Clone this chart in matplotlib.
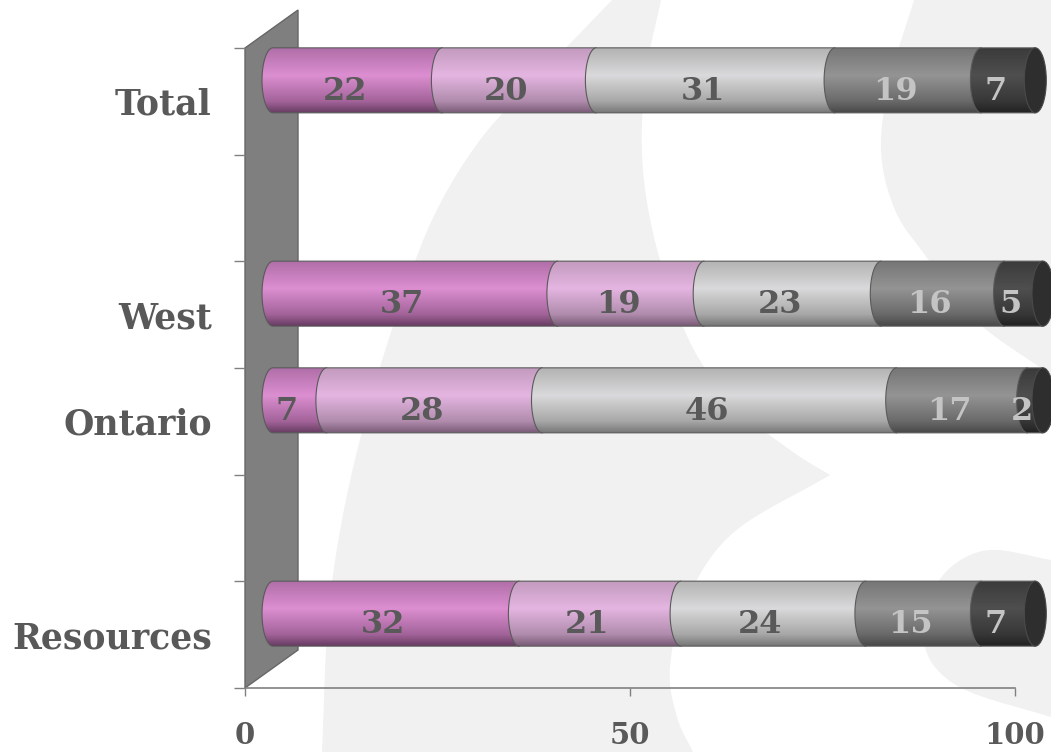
import numpy as np
import matplotlib
matplotlib.use('Agg')
import matplotlib.pyplot as plt
import matplotlib.transforms as mtransforms
from matplotlib.patches import Polygon, Ellipse
from matplotlib.colors import to_rgb

# survey shares per region, five answer bands each (empty rows are spacers)
categories = ["Total", "", "West", "Ontario", "", "Resources"]
total = [22, 20, 31, 19, 7]
west = [37, 19, 23, 16, 5]
ontario = [7, 28, 46, 17, 2]
resources = [32, 21, 24, 15, 7]
rows = [total, None, west, ontario, None, resources]
x_ticks = [0, 50, 100]

# vertical shading of each band: top edge, highlight, lower body, bottom edge
band_shades = [
    ['#b06fa8', '#dc8ed1', '#a3649a', '#673d62'],
    ['#c39bbf', '#e4b5e1', '#b08cad', '#7a5c77'],
    ['#b3b3b3', '#dad9db', '#a8a8a8', '#777777'],
    ['#767676', '#949494', '#6a6a6a', '#484848'],
    ['#3b3b3b', '#4f4f4f', '#373737', '#222222'],
]
label_colors = ['#595959', '#595959', '#595959', '#c4c4c4', '#c4c4c4']
TEXT = '#595959'
FONT = 'DejaVu Serif'


def gradient(stops, n=96):
    pos = [0.0, 0.42, 0.82, 1.0]
    rgb = np.array([to_rgb(c) for c in stops])
    t = np.linspace(0, 1, n)
    cols = np.column_stack([np.interp(t, pos, rgb[:, k]) for k in range(3)])
    return cols[:, None, :]


def catmull(pts, n=24):
    p = np.array(pts, float)
    p = np.vstack([2 * p[0] - p[1], p, 2 * p[-1] - p[-2]])
    out = []
    t = np.linspace(0, 1, n, endpoint=False)[:, None]
    for i in range(1, len(p) - 2):
        p0, p1, p2, p3 = p[i - 1], p[i], p[i + 1], p[i + 2]
        out.append(0.5 * (2 * p1 + (-p0 + p2) * t
                          + (2 * p0 - 5 * p1 + 4 * p2 - p3) * t ** 2
                          + (-p0 + 3 * p1 - 3 * p2 + p3) * t ** 3))
    out.append(p[-2][None])
    return np.vstack(out)


fig = plt.figure(figsize=(10.51, 7.52), dpi=100)

# faint watermark swooshes behind the chart
bg = fig.add_axes([0, 0, 1, 1])
bg.set_xlim(0, 1051)
bg.set_ylim(752, 0)
bg.axis('off')
swooshes = [
    [[(612, 0), (540, 75), (480, 140), (432, 220), (395, 320), (365, 420),
      (342, 520), (328, 620), (322, 752)],
     [(693, 752), (677, 717), (670, 667), (687, 600), (733, 533), (830, 475)],
     [(830, 475), (793, 452), (740, 410), (694, 350), (660, 260), (643, 170),
      (645, 80), (661, 0)]],
    [[(914, 0), (890, 80), (881, 150), (895, 210), (925, 255), (975, 320),
      (1051, 375)],
     [(1051, 375), (1051, 0)]],
    [[(1051, 560), (990, 550), (950, 568), (926, 605), (923, 637), (935, 667),
      (970, 692), (1051, 717)]],
]
for arcs in swooshes:
    outline = np.vstack([catmull(a) if len(a) > 2 else np.array(a, float) for a in arcs])
    bg.fill(outline[:, 0], outline[:, 1], color='#f1f1f1', lw=0)

ax = fig.add_axes([245 / 1051, 64 / 752, 770 / 1051, 640 / 752])
ax.patch.set_alpha(0)

px_x = 770 / 100          # pixels per percent
px_y = 640 / len(categories)
rx = 11 / px_x            # half width of the cylinder end ellipses
hh = 32.5 / px_y          # half height of the cylinders

# grey back wall with perspective depth
wx, wy = 53 / px_x, 38 / px_y
n = len(categories)
wall = Polygon([(0, -0.5), (wx, -0.5 - wy), (wx, n - 0.5 - wy), (0, n - 0.5)],
               closed=True, facecolor='#7f7f7f', edgecolor='#666666', lw=1,
               clip_on=False, zorder=1)
ax.add_patch(wall)

bar_tf = ax.transData + mtransforms.ScaledTranslation(0.28, 0.21, fig.dpi_scale_trans)
lab_tf = ax.transData + mtransforms.ScaledTranslation(0.15, 0.10, fig.dpi_scale_trans)

grads = [gradient(s) for s in band_shades]
theta = np.linspace(-np.pi / 2, np.pi / 2, 60)
z = 2
for i, row in enumerate(rows):
    if row is None:
        continue
    left = 0
    for j, v in enumerate(row):
        x0, x1 = left, left + v
        cap = np.column_stack([x0 - rx * np.cos(theta), i + hh * np.sin(theta)])
        verts = np.vstack([cap, [(x1, i + hh), (x1, i - hh)]])
        edge = Polygon(verts, closed=True, transform=bar_tf, facecolor='none',
                       edgecolor='#5a5a5a', lw=0.8, zorder=z + 0.5, clip_on=False)
        ax.add_patch(edge)
        im = ax.imshow(grads[j], extent=(x0 - rx, x1, i + hh, i - hh), origin='upper',
                       aspect='auto', transform=bar_tf, zorder=z, interpolation='bilinear')
        im.set_clip_box(fig.bbox)
        im.set_clip_path(edge)
        ax.text(x0 + v / 2, i, str(v), transform=lab_tf, ha='center', va='center',
                fontsize=23, fontweight='bold', family=FONT, color=label_colors[j],
                zorder=100)
        left = x1
        z += 1
    ax.add_patch(Ellipse((left, i), 2 * rx, 2 * hh, transform=bar_tf, clip_on=False,
                         facecolor='#2e2e2e', edgecolor='#4a4a4a', lw=0.8, zorder=z))
    z += 1

ax.set_xlim(0, 100)
ax.set_ylim(n - 0.5, -0.5)

ax.set_xticks(x_ticks)
ax.set_xticklabels([str(t) for t in x_ticks], fontsize=21, fontweight='bold',
                   family=FONT, color=TEXT)
ax.tick_params(axis='x', direction='out', length=6, width=1, color='#808080', pad=18)

ax.set_yticks(range(n))
ax.set_yticklabels(categories, fontsize=25, fontweight='bold', family=FONT, color=TEXT)
ax.set_yticks(np.arange(-0.5, n, 1), minor=True)
ax.tick_params(axis='y', which='major', length=0, pad=24)
ax.tick_params(axis='y', which='minor', direction='out', length=8, width=1, color='#808080')

for side in ['top', 'right', 'left']:
    ax.spines[side].set_visible(False)
ax.spines['bottom'].set_color('#808080')
ax.spines['bottom'].set_linewidth(1.2)

fig.savefig('out.png', dpi=100)
